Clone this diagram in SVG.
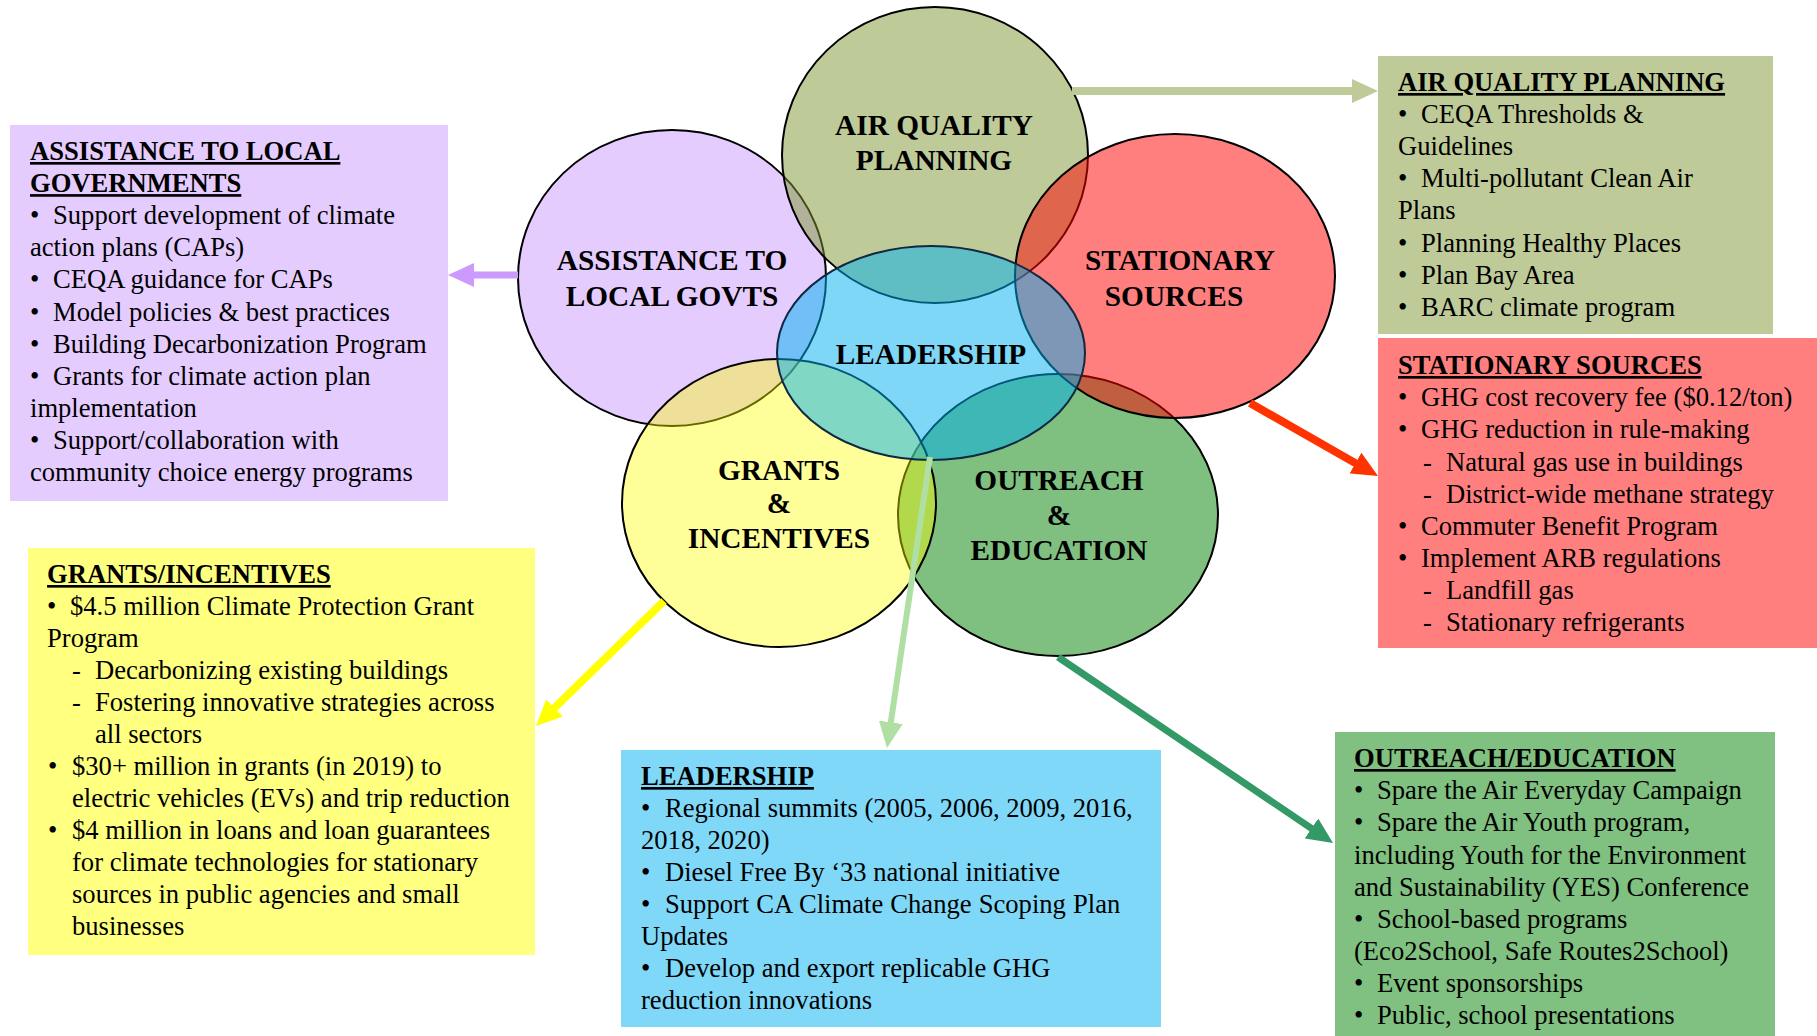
<svg xmlns="http://www.w3.org/2000/svg" width="1817" height="1036" viewBox="0 0 1817 1036">
  <style>
    .bx text { font-family: "Liberation Serif", "Times New Roman", serif; font-size: 26.6px; fill: #000; }
    .bx .hd { font-weight: bold; text-decoration: underline; }
    .lbl { font-family: "Liberation Serif", "Times New Roman", serif; font-weight: bold; font-size: 29.3px; fill: #000; text-anchor: middle; }
    .ring { stroke: #000; stroke-width: 2; }
    .link { fill: none; stroke-linecap: butt; }
  </style>
  <defs>
    <marker id="head-purple" markerUnits="userSpaceOnUse" markerWidth="26" markerHeight="24" refX="11" refY="12" orient="auto">
      <path d="M0,0 L26,12 L0,24 z" fill="#cc99ff"/>
    </marker>
    <marker id="head-olive" markerUnits="userSpaceOnUse" markerWidth="26" markerHeight="24" refX="11" refY="12" orient="auto">
      <path d="M0,0 L26,12 L0,24 z" fill="#bfca99"/>
    </marker>
    <marker id="head-red" markerUnits="userSpaceOnUse" markerWidth="26" markerHeight="24" refX="11" refY="12" orient="auto">
      <path d="M0,0 L26,12 L0,24 z" fill="#ff3300"/>
    </marker>
    <marker id="head-yellow" markerUnits="userSpaceOnUse" markerWidth="26" markerHeight="24" refX="11" refY="12" orient="auto">
      <path d="M0,0 L26,12 L0,24 z" fill="#ffff00"/>
    </marker>
    <marker id="head-mint" markerUnits="userSpaceOnUse" markerWidth="26" markerHeight="24" refX="11" refY="12" orient="auto">
      <path d="M0,0 L26,12 L0,24 z" fill="#b0dfa4"/>
    </marker>
    <marker id="head-sea" markerUnits="userSpaceOnUse" markerWidth="26" markerHeight="24" refX="11" refY="12" orient="auto">
      <path d="M0,0 L26,12 L0,24 z" fill="#339966"/>
    </marker>
  </defs>

  <rect width="1817" height="1036" fill="#ffffff"/>

  <!-- overlapping program circles -->
  <g id="circle-assistance">
    <ellipse class="ring" cx="672" cy="278" rx="154" ry="148" fill="#cc99ff" fill-opacity="0.5"/>
    <text class="lbl" x="672" y="270">ASSISTANCE TO</text>
    <text class="lbl" x="672" y="306">LOCAL GOVTS</text>
  </g>
  <g id="circle-air-quality">
    <ellipse class="ring" cx="935" cy="155" rx="153" ry="148" fill="#7f9533" fill-opacity="0.5"/>
    <text class="lbl" x="934" y="135">AIR QUALITY</text>
    <text class="lbl" x="934" y="170">PLANNING</text>
  </g>
  <g id="circle-outreach">
    <ellipse class="ring" cx="1058" cy="515" rx="160" ry="141" fill="#008000" fill-opacity="0.5"/>
    <text class="lbl" x="1059" y="490">OUTREACH</text>
    <text class="lbl" x="1059" y="525">&amp;</text>
    <text class="lbl" x="1059" y="560">EDUCATION</text>
  </g>
  <g id="circle-grants">
    <ellipse class="ring" cx="779" cy="503" rx="157" ry="144" fill="#ffff00" fill-opacity="0.4"/>
    <text class="lbl" x="779" y="480">GRANTS</text>
    <text class="lbl" x="779" y="513">&amp;</text>
    <text class="lbl" x="779" y="548">INCENTIVES</text>
  </g>
  <g id="circle-stationary">
    <ellipse class="ring" cx="1175" cy="276" rx="160" ry="142" fill="#ff0000" fill-opacity="0.5"/>
    <text class="lbl" x="1180" y="270">STATIONARY</text>
    <text class="lbl" x="1174" y="306">SOURCES</text>
  </g>
  <g id="circle-leadership">
    <ellipse cx="931" cy="353" rx="154" ry="107" fill="#00b0f0" fill-opacity="0.5" stroke="#102840" stroke-width="2"/>
    <text class="lbl" x="931" y="364">LEADERSHIP</text>
  </g>

  <!-- connectors from circles to detail boxes -->
  <g id="connectors">
    <line class="link" x1="518" y1="275" x2="463" y2="275" stroke="#cc99ff" stroke-width="7" marker-end="url(#head-purple)"/>
    <line class="link" x1="1072" y1="91" x2="1363" y2="91" stroke="#bfca99" stroke-width="8" marker-end="url(#head-olive)"/>
    <line class="link" x1="1250" y1="403" x2="1365" y2="468.6" stroke="#ff3300" stroke-width="8" marker-end="url(#head-red)"/>
    <line class="link" x1="664" y1="601" x2="546.7" y2="715.5" stroke="#ffff00" stroke-width="8" marker-end="url(#head-yellow)"/>
    <line class="link" x1="930" y1="457" x2="889.2" y2="733.2" stroke="#b0dfa4" stroke-width="6" marker-end="url(#head-mint)"/>
    <line class="link" x1="1058" y1="657" x2="1320.6" y2="834.6" stroke="#339966" stroke-width="7" marker-end="url(#head-sea)"/>
  </g>

  <!-- detail boxes -->
  <g id="box-assistance" class="bx">
    <rect x="10" y="125" width="438" height="376" fill="#e5ccff"/>
    <text class="hd" x="30" y="160">ASSISTANCE TO LOCAL</text>
    <text class="hd" x="30" y="192.1">GOVERNMENTS</text>
    <text x="30" y="224.2">•<tspan x="53">Support development of climate</tspan></text>
    <text x="30" y="256.3">action plans (CAPs)</text>
    <text x="30" y="288.4">•<tspan x="53">CEQA guidance for CAPs</tspan></text>
    <text x="30" y="320.5">•<tspan x="53">Model policies &amp; best practices</tspan></text>
    <text x="30" y="352.6">•<tspan x="53">Building Decarbonization Program</tspan></text>
    <text x="30" y="384.7">•<tspan x="53">Grants for climate action plan</tspan></text>
    <text x="30" y="416.8">implementation</text>
    <text x="30" y="448.9">•<tspan x="53">Support/collaboration with</tspan></text>
    <text x="30" y="481">community choice energy programs</text>
  </g>

  <g id="box-air-quality" class="bx">
    <rect x="1378" y="56" width="395" height="278" fill="#bfca99"/>
    <text class="hd" x="1398" y="91">AIR QUALITY PLANNING</text>
    <text x="1398" y="123.1">•<tspan x="1421">CEQA Thresholds &amp;</tspan></text>
    <text x="1398" y="155.2">Guidelines</text>
    <text x="1398" y="187.3">•<tspan x="1421">Multi-pollutant Clean Air</tspan></text>
    <text x="1398" y="219.4">Plans</text>
    <text x="1398" y="251.5">•<tspan x="1421">Planning Healthy Places</tspan></text>
    <text x="1398" y="283.6">•<tspan x="1421">Plan Bay Area</tspan></text>
    <text x="1398" y="315.7">•<tspan x="1421">BARC climate program</tspan></text>
  </g>

  <g id="box-stationary" class="bx">
    <rect x="1378" y="338" width="439" height="310" fill="#ff7f7f"/>
    <text class="hd" x="1398" y="374">STATIONARY SOURCES</text>
    <text x="1398" y="406.2">•<tspan x="1421">GHG cost recovery fee ($0.12/ton)</tspan></text>
    <text x="1398" y="438.3">•<tspan x="1421">GHG reduction in rule-making</tspan></text>
    <text x="1423" y="470.5">-<tspan x="1446">Natural gas use in buildings</tspan></text>
    <text x="1423" y="502.6">-<tspan x="1446">District-wide methane strategy</tspan></text>
    <text x="1398" y="534.8">•<tspan x="1421">Commuter Benefit Program</tspan></text>
    <text x="1398" y="566.9">•<tspan x="1421">Implement ARB regulations</tspan></text>
    <text x="1423" y="599.1">-<tspan x="1446">Landfill gas</tspan></text>
    <text x="1423" y="631.2">-<tspan x="1446">Stationary refrigerants</tspan></text>
  </g>

  <g id="box-grants" class="bx">
    <rect x="28" y="548" width="507" height="407" fill="#ffff80"/>
    <text class="hd" x="47" y="583">GRANTS/INCENTIVES</text>
    <text x="47" y="615">•<tspan x="70">$4.5 million Climate Protection Grant</tspan></text>
    <text x="47" y="647">Program</text>
    <text x="72" y="679">-<tspan x="95">Decarbonizing existing buildings</tspan></text>
    <text x="72" y="711">-<tspan x="95">Fostering innovative strategies across</tspan></text>
    <text x="95" y="743">all sectors</text>
    <text x="48" y="775">•<tspan x="72">$30+ million in grants (in 2019) to</tspan></text>
    <text x="72" y="807">electric vehicles (EVs) and trip reduction</text>
    <text x="48" y="839">•<tspan x="72">$4 million in loans and loan guarantees</tspan></text>
    <text x="72" y="871">for climate technologies for stationary</text>
    <text x="72" y="903">sources in public agencies and small</text>
    <text x="72" y="935">businesses</text>
  </g>

  <g id="box-leadership" class="bx">
    <rect x="621" y="750" width="540" height="277" fill="#80d8f8"/>
    <text class="hd" x="641" y="785">LEADERSHIP</text>
    <text x="641" y="817">•<tspan x="665">Regional summits (2005, 2006, 2009, 2016,</tspan></text>
    <text x="641" y="849">2018, 2020)</text>
    <text x="641" y="881">•<tspan x="665">Diesel Free By ‘33 national initiative</tspan></text>
    <text x="641" y="913">•<tspan x="665" word-spacing="0.5">Support CA Climate Change Scoping Plan</tspan></text>
    <text x="641" y="945">Updates</text>
    <text x="641" y="977">•<tspan x="665">Develop and export replicable GHG</tspan></text>
    <text x="641" y="1009">reduction innovations</text>
  </g>

  <g id="box-outreach" class="bx">
    <rect x="1335" y="732" width="440" height="304" fill="#80c080"/>
    <text class="hd" x="1354" y="767">OUTREACH/EDUCATION</text>
    <text x="1354" y="799.2">•<tspan x="1377">Spare the Air Everyday Campaign</tspan></text>
    <text x="1354" y="831.3">•<tspan x="1377">Spare the Air Youth program,</tspan></text>
    <text x="1354" y="863.5">including Youth for the Environment</text>
    <text x="1354" y="895.6">and Sustainability (YES) Conference</text>
    <text x="1354" y="927.8">•<tspan x="1377">School-based programs</tspan></text>
    <text x="1354" y="959.9">(Eco2School, Safe Routes2School)</text>
    <text x="1354" y="992.1">•<tspan x="1377">Event sponsorships</tspan></text>
    <text x="1354" y="1024.2">•<tspan x="1377">Public, school presentations</tspan></text>
  </g>
</svg>
